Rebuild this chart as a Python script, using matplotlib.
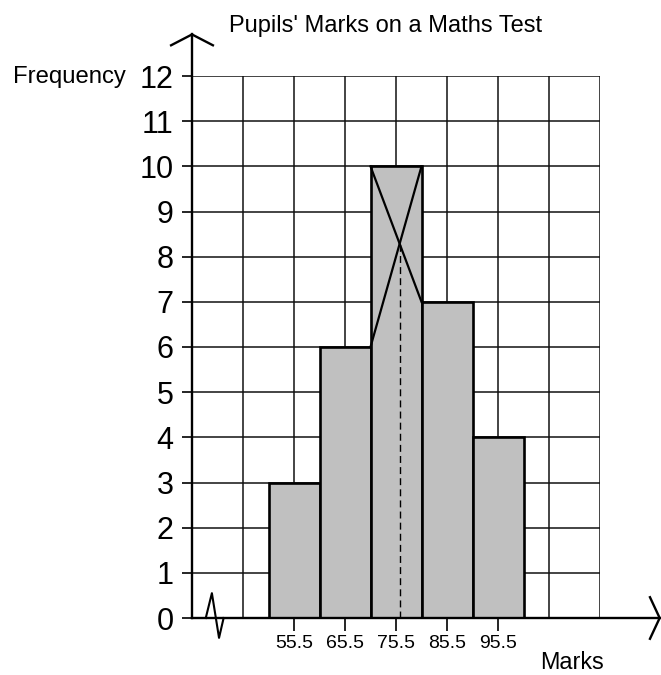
import matplotlib
matplotlib.use('Agg')
import matplotlib.pyplot as plt

plt.rcParams['font.family'] = ['Liberation Sans', 'DejaVu Sans']

# class midpoints (width 10) and frequencies
marks = [55.5, 65.5, 75.5, 85.5, 95.5]
freq = [3, 6, 10, 7, 4]
class_width = 10
yticks = list(range(13))
grid_x = [35.5 + 10 * k for k in range(9)]

fig = plt.figure(figsize=(6.61, 6.75), dpi=100)
ax = fig.add_axes([192 / 661, 1 - 618 / 675, 408 / 661, 542 / 675])
ax.set_xlim(grid_x[0], grid_x[-1])
ax.set_ylim(0, 12)

# squared paper
ax.vlines(grid_x[1:], 0, 12, color='#111111', lw=1.1, zorder=1)
ax.hlines(yticks[1:], grid_x[0], grid_x[-1], color='#111111', lw=1.1, zorder=1)

ax.bar(marks, freq, width=class_width, color='#c0c0c0', edgecolor='black',
       lw=1.9, zorder=2)

# estimate of the mode from the modal class
i = freq.index(max(freq))
left = marks[i] - class_width / 2
right = marks[i] + class_width / 2
ax.plot([left, right], [freq[i], freq[i + 1]], color='black', lw=1.6, zorder=3)
ax.plot([right, left], [freq[i], freq[i - 1]], color='black', lw=1.6, zorder=3)
s1 = (freq[i + 1] - freq[i]) / class_width
s2 = (freq[i] - freq[i - 1]) / class_width
t = (freq[i] - freq[i - 1]) / (s2 - s1)
mode_x = left + t
mode_y = freq[i] + s1 * t
ax.plot([mode_x, mode_x], [0, mode_y], color='black', lw=1.0,
        ls=(0, (5, 3)), zorder=3)

# axes with arrow heads and a break on the x axis
x_end = 127.2
y_end = 12.92
ax.plot([grid_x[0], grid_x[0]], [0, y_end], color='black', lw=1.7,
        clip_on=False, zorder=4)
ax.plot([grid_x[0], x_end], [0, 0], color='black', lw=1.7, clip_on=False, zorder=4)
ax.plot([31.4, grid_x[0], 39.6], [12.68, y_end, 12.68], color='black', lw=1.7,
        clip_on=False, zorder=4)
ax.plot([125.3, x_end, 125.3], [0.46, 0, -0.46], color='black', lw=1.7,
        clip_on=False, zorder=4)
ax.plot([38.2, 39.4, 40.8, 41.7], [0, 0.55, -0.44, 0], color='black', lw=1.5,
        clip_on=False, zorder=4)

for side in ['left', 'right', 'top', 'bottom']:
    ax.spines[side].set_visible(False)

ax.set_yticks(yticks)
ax.set_xticks(marks)
ax.set_xticklabels([str(m) for m in marks])
ax.tick_params(axis='y', length=7.2, width=1.2, labelsize=22, pad=6)
ax.tick_params(axis='x', length=9.4, width=1.2, labelsize=14, pad=3)

fig.text(386 / 661, 1 - 32 / 675, "Pupils' Marks on a Maths Test",
         ha='center', va='baseline', fontsize=17)
fig.text(126 / 661, 1 - 83 / 675, 'Frequency', ha='right', va='baseline',
         fontsize=17.2)
fig.text(572 / 661, 1 - 669 / 675, 'Marks', ha='center', va='baseline',
         fontsize=16.8)

fig.savefig('out.png', dpi=100)
